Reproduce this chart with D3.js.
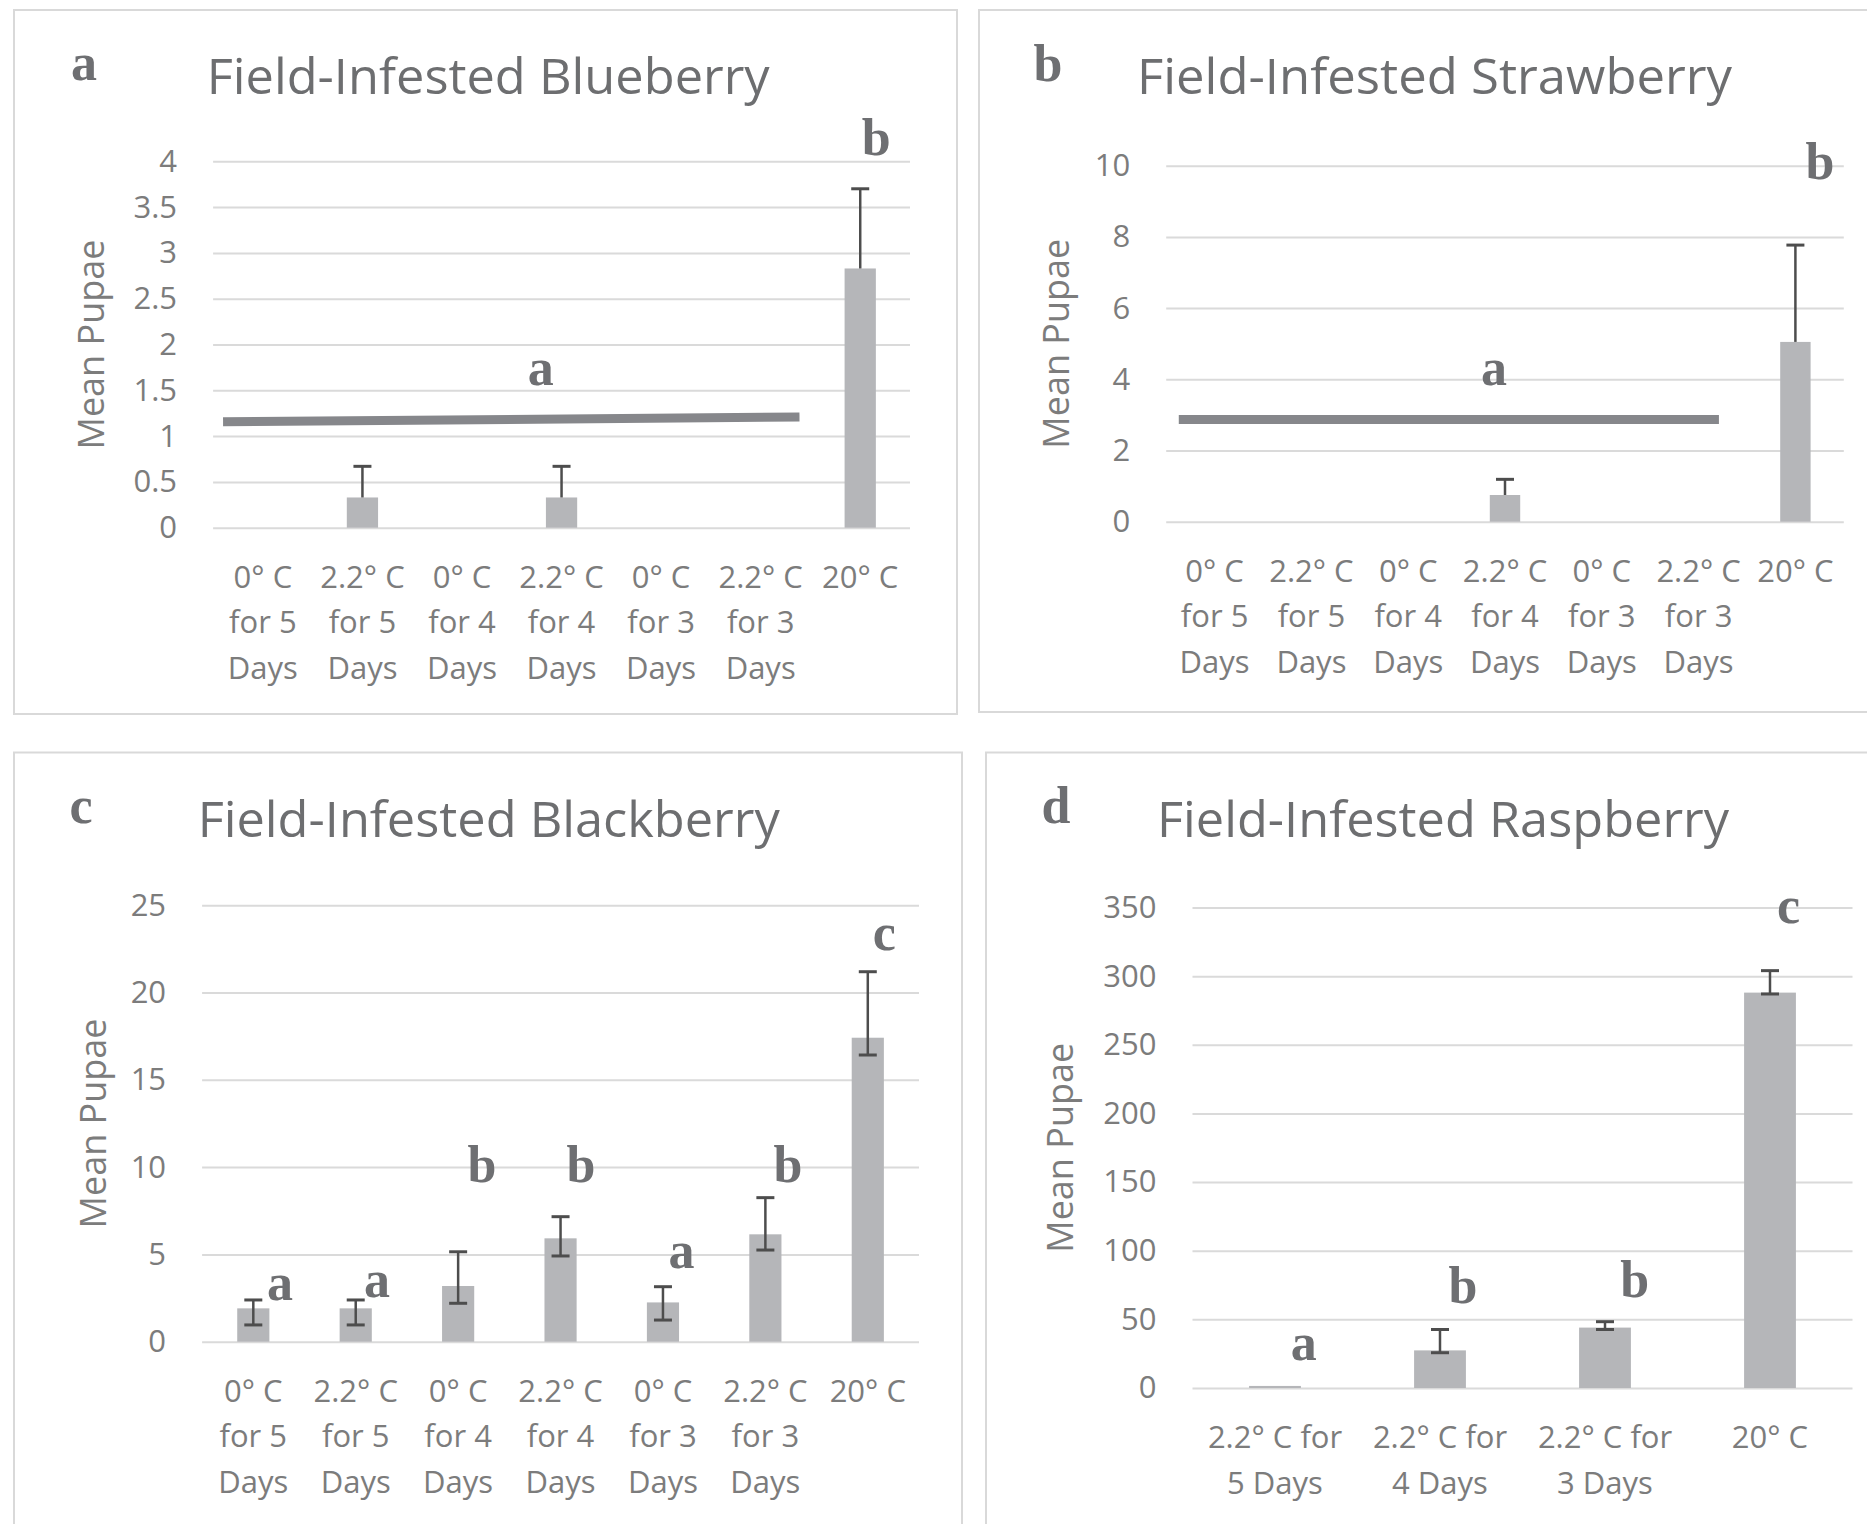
<!DOCTYPE html>
<html>
<head>
<meta charset="utf-8">
<script src="https://cdn.jsdelivr.net/npm/d3@7"></script>
<style>
  html, body { margin: 0; padding: 0; background: #ffffff; }
  svg { display: block; }
</style>
</head>
<body>
<script>
// ---------------- DATA ----------------
const sevenCategories = ["0° C for 5 Days", "2.2° C for 5 Days", "0° C for 4 Days", "2.2° C for 4 Days", "0° C for 3 Days", "2.2° C for 3 Days", "20° C"];
const sevenLabelLines = [["0° C", "for 5", "Days"], ["2.2° C", "for 5", "Days"], ["0° C", "for 4", "Days"], ["2.2° C", "for 4", "Days"], ["0° C", "for 3", "Days"], ["2.2° C", "for 3", "Days"], ["20° C"]];
const fourCategories = ["2.2° C for 5 Days", "2.2° C for 4 Days", "2.2° C for 3 Days", "20° C"];
const fourLabelLines = [["2.2° C for", "5 Days"], ["2.2° C for", "4 Days"], ["2.2° C for", "3 Days"], ["20° C"]];

// (a) Blueberry
const blueberryMean = [0, 0.33, 0, 0.33, 0, 0, 2.83];
const blueberryErrPlus = [0, 0.34, 0, 0.34, 0, 0, 0.87];
const blueberryErrMinus = [0, 0, 0, 0, 0, 0, 0];
const blueberryTicks = [0, 0.5, 1, 1.5, 2, 2.5, 3, 3.5, 4];
const blueberryBracketX = [-0.4, 5.39];
const blueberryBracketY = [1.156, 1.209];
const blueberryLetters = ["a", "b"];
const blueberryLetterX = [2.79, 6.16];
const blueberryLetterY = [1.56, 4.07];

// (b) Strawberry
const strawberryMean = [0, 0, 0, 0.75, 0, 0, 5.05];
const strawberryErrPlus = [0, 0, 0, 0.44, 0, 0, 2.72];
const strawberryErrMinus = [0, 0, 0, 0, 0, 0, 0];
const strawberryTicks = [0, 2, 4, 6, 8, 10];
const strawberryBracketX = [-0.37, 5.21];
const strawberryBracketY = [2.87, 2.87];
const strawberryLetters = ["a", "b"];
const strawberryLetterX = [2.886, 6.254];
const strawberryLetterY = [3.84, 9.63];

// (c) Blackberry
const blackberryMean = [1.91, 1.91, 3.19, 5.92, 2.25, 6.15, 17.41];
const blackberryErrPlus = [0.48, 0.48, 1.96, 1.24, 0.9, 2.1, 3.78];
const blackberryErrMinus = [0.95, 0.95, 0.99, 1.01, 1.01, 0.9, 0.99];
const blackberryTicks = [0, 5, 10, 15, 20, 25];
const blackberryLetters = ["a", "a", "b", "b", "a", "b", "c"];
const blackberryLetterX = [0.261, 1.208, 2.233, 3.2, 4.18, 5.22, 6.16];
const blackberryLetterY = [2.39, 2.56, 9.12, 9.12, 4.22, 9.16, 22.43];

// (d) Raspberry
const raspberryMean = [1.5, 27.4, 44, 288];
const raspberryErrPlus = [0, 15.2, 4.3, 16];
const raspberryErrMinus = [0, 1.7, 1.4, 1.0];
const raspberryTicks = [0, 50, 100, 150, 200, 250, 300, 350];
const raspberryLetters = ["a", "b", "b", "c"];
const raspberryLetterX = [0.174, 1.139, 2.18, 3.112];
const raspberryLetterY = [20.4, 61.7, 66.5, 339];

// ---------------- STYLE ----------------
const BAR = "#b5b6b9";
const GRID = "#dadada";
const FRAME = "#d9d9d9";
const ERR = "#4d4d4d";
const BRACKET = "#86878b";
const LETTER = "#6e6f72";
const TITLE = "#6d6e70";
const TICK = "#7c7c7c";
const SANS = "'Open Sans', 'DejaVu Sans', sans-serif";
const SERIF = "'Liberation Serif', 'DejaVu Serif', serif";

const svg = d3.select("body").append("svg").attr("width", 1867).attr("height", 1524);

function drawPanel(p) {
  const g = svg.append("g");
  const n = p.means.length;

  // frame
  g.append("rect")
    .attr("x", p.frame[0]).attr("y", p.frame[1])
    .attr("width", p.frame[2] - p.frame[0]).attr("height", p.frame[3] - p.frame[1])
    .attr("fill", "none").attr("stroke", FRAME).attr("stroke-width", 2);

  const x = d3.scaleBand().domain(d3.range(n)).range(p.xr).paddingInner(0.686).paddingOuter(0.343);
  const xp = d3.scaleLinear().domain([-0.5, n - 0.5]).range(p.xr);
  const y = d3.scaleLinear().domain([0, p.yMax]).range([p.yr[0], p.yr[1]]);

  // y axis with gridlines
  const ya = d3.axisLeft(y).tickValues(p.ticks).tickSize(-(p.xr[1] - p.xr[0])).tickPadding(36).tickFormat(d => String(d));
  g.append("g").attr("transform", `translate(${p.xr[0]},0)`).call(ya)
    .call(s => {
      s.select(".domain").remove();
      s.selectAll(".tick line").attr("stroke", GRID).attr("stroke-width", 2);
      s.selectAll(".tick text").attr("fill", TICK).style("font-family", SANS).style("font-size", "31px");
    });

  // bars
  g.append("g").selectAll("rect").data(p.means).join("rect")
    .attr("x", (d, i) => x(i)).attr("y", d => y(d))
    .attr("width", x.bandwidth()).attr("height", d => y(0) - y(d))
    .attr("fill", BAR);

  // error bars
  const eg = g.append("g").attr("stroke", ERR).attr("stroke-width", 2.5).attr("fill", "none");
  p.means.forEach((m, i) => {
    const plus = p.errPlus[i], minus = p.errMinus[i];
    if (plus <= 0 && minus <= 0) return;
    const cx = x(i) + x.bandwidth() / 2;
    const top = y(m + plus), bot = y(m - minus);
    eg.append("line").attr("x1", cx).attr("x2", cx).attr("y1", top).attr("y2", bot);
    eg.append("line").attr("x1", cx - 9).attr("x2", cx + 9).attr("y1", top).attr("y2", top).attr("stroke-width", 3);
    if (minus > 0) eg.append("line").attr("x1", cx - 9).attr("x2", cx + 9).attr("y1", bot).attr("y2", bot).attr("stroke-width", 3);
  });

  // significance bracket line
  if (p.bracketX) {
    g.append("line")
      .attr("x1", xp(p.bracketX[0])).attr("x2", xp(p.bracketX[1]))
      .attr("y1", y(p.bracketY[0])).attr("y2", y(p.bracketY[1]))
      .attr("stroke", BRACKET).attr("stroke-width", 9);
  }

  // significance letters
  g.append("g").selectAll("text").data(p.letters).join("text")
    .attr("x", (d, i) => xp(p.letterX[i])).attr("y", (d, i) => y(p.letterY[i]))
    .attr("text-anchor", "middle").attr("fill", LETTER)
    .style("font-family", SERIF).style("font-weight", "bold").style("font-size", "52px")
    .text(d => d);

  // x axis labels
  const xa = d3.axisBottom(x).tickSize(0).tickFormat(i => p.categories[i]);
  g.append("g").attr("transform", `translate(0,${p.yr[0]})`).call(xa)
    .call(s => {
      s.select(".domain").remove();
      s.selectAll(".tick text").each(function (i) {
        const t = d3.select(this).text(null).attr("y", 0).attr("dy", null)
          .attr("fill", TICK).style("font-family", SANS).style("font-size", "31px");
        p.labelLines[i].forEach((line, j) => {
          t.append("tspan").attr("x", 0).attr("y", 60 + j * 45.5).text(line);
        });
      });
    });

  // title
  g.append("text").attr("x", p.titleX).attr("y", p.titleY)
    .attr("textLength", p.titleW).attr("lengthAdjust", "spacingAndGlyphs")
    .attr("fill", TITLE).style("font-family", SANS).style("font-size", "49px")
    .text(p.title);

  // panel letter
  g.append("text").attr("x", p.letterPos[0]).attr("y", p.letterPos[1])
    .attr("text-anchor", "middle").attr("fill", LETTER)
    .style("font-family", SERIF).style("font-weight", "bold").style("font-size", "52px")
    .text(p.panelLetter);

  // y axis title
  const yc = (p.yr[0] + p.yr[1]) / 2;
  g.append("text").attr("transform", `translate(${p.yTitleX},${yc}) rotate(-90)`)
    .attr("text-anchor", "middle").attr("fill", TICK)
    .style("font-family", SANS).style("font-size", "36px")
    .text("Mean Pupae");
}

drawPanel({
  frame: [14, 10, 957, 714], xr: [213.1, 910], yr: [527.7, 161.3], yMax: 4,
  means: blueberryMean, errPlus: blueberryErrPlus, errMinus: blueberryErrMinus, ticks: blueberryTicks,
  bracketX: blueberryBracketX, bracketY: blueberryBracketY,
  letters: blueberryLetters, letterX: blueberryLetterX, letterY: blueberryLetterY,
  categories: sevenCategories, labelLines: sevenLabelLines,
  title: "Field-Infested Blueberry", titleX: 206.7, titleY: 94, titleW: 563,
  panelLetter: "a", letterPos: [84, 80], yTitleX: 104
});

drawPanel({
  frame: [979, 10, 1895, 712], xr: [1166.2, 1843.8], yr: [521.7, 165.7], yMax: 10,
  means: strawberryMean, errPlus: strawberryErrPlus, errMinus: strawberryErrMinus, ticks: strawberryTicks,
  bracketX: strawberryBracketX, bracketY: strawberryBracketY,
  letters: strawberryLetters, letterX: strawberryLetterX, letterY: strawberryLetterY,
  categories: sevenCategories, labelLines: sevenLabelLines,
  title: "Field-Infested Strawberry", titleX: 1137, titleY: 94, titleW: 595,
  panelLetter: "b", letterPos: [1048, 81], yTitleX: 1069
});

drawPanel({
  frame: [14, 752.5, 962, 1545], xr: [202.1, 919], yr: [1341.7, 905.2], yMax: 25,
  means: blackberryMean, errPlus: blackberryErrPlus, errMinus: blackberryErrMinus, ticks: blackberryTicks,
  bracketX: null,
  letters: blackberryLetters, letterX: blackberryLetterX, letterY: blackberryLetterY,
  categories: sevenCategories, labelLines: sevenLabelLines,
  title: "Field-Infested Blackberry", titleX: 197.7, titleY: 837, titleW: 582,
  panelLetter: "c", letterPos: [81, 822.5], yTitleX: 106
});

drawPanel({
  frame: [986, 752.5, 1895, 1545], xr: [1192.5, 1852.5], yr: [1388, 907.5], yMax: 350,
  means: raspberryMean, errPlus: raspberryErrPlus, errMinus: raspberryErrMinus, ticks: raspberryTicks,
  bracketX: null,
  letters: raspberryLetters, letterX: raspberryLetterX, letterY: raspberryLetterY,
  categories: fourCategories, labelLines: fourLabelLines,
  title: "Field-Infested Raspberry", titleX: 1157, titleY: 837, titleW: 572,
  panelLetter: "d", letterPos: [1056, 822.5], yTitleX: 1073
});
</script>
</body>
</html>
